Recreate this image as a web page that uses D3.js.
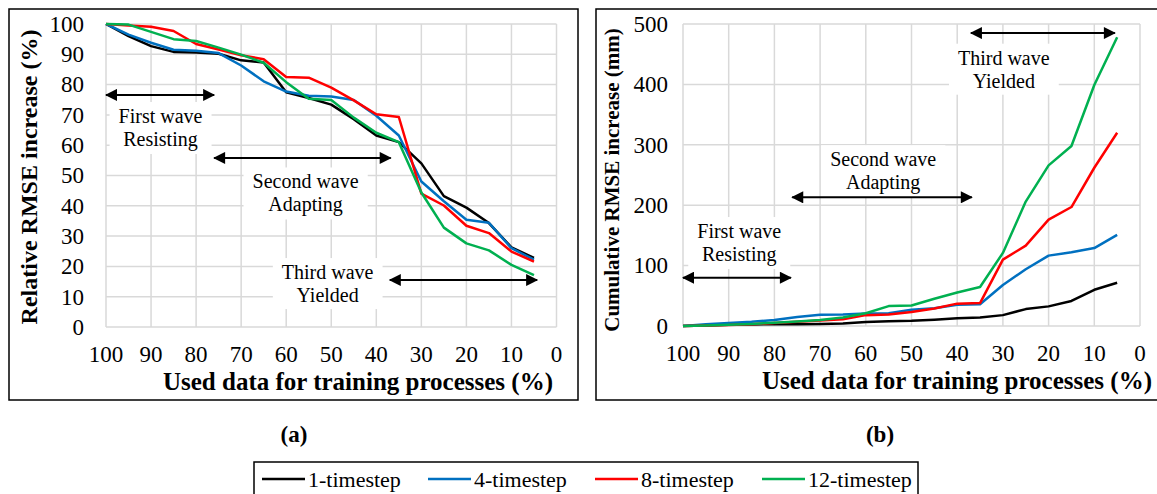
<!DOCTYPE html>
<meta charset="utf-8">
<style>
	body { margin: 0; background: #fff; }
	svg { font-family: "Liberation Serif", "Times New Roman", serif; }
	.grid line { stroke: #d9d9d9; stroke-width: 1.5; }
	.tick-label { font-size: 23px; fill: #000; }
	.axis-title { font-size: 25px; font-weight: bold; fill: #000; }
	.note { font-size: 20px; fill: #000; }
	.legend text { font-size: 22px; }
</style>
<script src="https://cdn.jsdelivr.net/npm/d3@7/dist/d3.min.js"></script>
<svg width="1157" height="494"></svg>
<script>
	// x values: share of data used for training (%)
	var used = [100, 95, 90, 85, 80, 75, 70, 65, 60, 55, 50, 45, 40, 35, 30, 25, 20, 15, 10, 5];
	var xTicks = [100, 90, 80, 70, 60, 50, 40, 30, 20, 10, 0];

	var seriesNames = ["1-timestep", "4-timestep", "8-timestep", "12-timestep"];
	var seriesColors = ["#000000", "#0070c0", "#ff0000", "#00b050"];

	// (a) relative RMSE increase (%)
	var rel1 = [100, 96, 92.7, 90.8, 90.6, 90.2, 88, 87.3, 77.5, 75.6, 73.4, 68.6, 63.2, 61, 54, 43.2, 39.4, 34.3, 26.3, 22.8];
	var rel4 = [100, 96.5, 93.8, 91.5, 91.2, 90.4, 86.3, 81.1, 77.7, 76.3, 76.1, 74.9, 69.7, 63.2, 48, 41.5, 35.4, 34.4, 26, 22.2];
	var rel8 = [100, 99.5, 99.1, 97.7, 93.4, 91.6, 89.7, 88.4, 82.5, 82.3, 79, 74.8, 70.2, 69.3, 44, 40.1, 33.4, 31, 24.9, 21.6];
	var rel12 = [100, 99.8, 97.4, 95, 94.4, 92.2, 89.9, 87.2, 80.8, 75.3, 74.9, 69.1, 64.1, 61, 44.4, 32.8, 27.6, 25.3, 20.5, 17.1];
	var relTicks = [0, 10, 20, 30, 40, 50, 60, 70, 80, 90, 100];

	// (b) cumulative RMSE increase (mm)
	var cum1 = [0, 1, 2, 2.5, 3, 3, 3.5, 4, 6.5, 8, 8.5, 10.5, 13, 14, 18, 28, 32.5, 41.5, 60, 71.5];
	var cum4 = [0, 3, 5, 7, 10, 15, 18.5, 19, 20.5, 21, 27, 29.5, 35, 36, 68, 94, 116.5, 122, 129, 151];
	var cum8 = [0, 1, 1.5, 3, 5, 7, 9, 11, 18, 19, 23, 29, 37, 38, 110, 133, 176, 197, 262, 320];
	var cum12 = [0, 1, 2, 3.5, 5.5, 7.5, 10, 14, 21, 33, 34, 45, 55.5, 64.5, 121, 206, 266, 298, 399, 478];
	var cumTicks = [0, 100, 200, 300, 400, 500];

	// wave annotations: [x from, x to, y] in data units, and label centres
	var arrowsA = [[100, 76, 76.6], [76, 36.8, 55.8], [37, 4.3, 15.5]];
	var notesA = [[87.9, 66, "First wave", "Resisting"], [55.7, 44.4, "Second wave", "Adapting"], [50.8, 14.5, "Third wave", "Yielded"]];
	var arrowsB = [[100, 76.4, 80], [76.1, 36.8, 213], [37, 5.5, 485]];
	var notesB = [[87.7, 139, "First wave", "Resisting"], [56.2, 258, "Second wave", "Adapting"], [29.8, 426, "Third wave", "Yielded"]];

	var svg = d3.select("svg");

	var defs = svg.append("defs");
	defs.append("marker")
		.attr("id", "head")
		.attr("viewBox", "0 0 12 12")
		.attr("refX", 11).attr("refY", 6)
		.attr("markerWidth", 13).attr("markerHeight", 12)
		.attr("markerUnits", "userSpaceOnUse")
		.attr("orient", "auto-start-reverse")
		.append("path")
		.attr("d", "M0,0 L12,6 L0,12 Z")
		.attr("fill", "#000");

	function drawPanel(p) {
		var g = svg.append("g");

		g.append("rect")
			.attr("x", p.box[0]).attr("y", p.box[1])
			.attr("width", p.box[2]).attr("height", p.box[3])
			.attr("fill", "#fff").attr("stroke", "#000").attr("stroke-width", 1.5);

		var x = d3.scaleLinear().domain([100, 0]).range([p.left, p.right]);
		var y = d3.scaleLinear().domain([0, p.ymax]).range([p.bottom, p.top]);

		var grid = g.append("g").attr("class", "grid");
		grid.selectAll(".v").data(xTicks).enter().append("line")
			.attr("x1", function(d) { return x(d); })
			.attr("x2", function(d) { return x(d); })
			.attr("y1", p.top).attr("y2", p.bottom);
		grid.selectAll(".h").data(p.yTicks).enter().append("line")
			.attr("x1", p.left).attr("x2", p.right)
			.attr("y1", function(d) { return y(d); })
			.attr("y2", function(d) { return y(d); });

		g.selectAll(".xl").data(xTicks).enter().append("text")
			.attr("class", "tick-label")
			.attr("x", function(d) { return x(d); })
			.attr("y", p.bottom + 35)
			.attr("text-anchor", "middle")
			.text(function(d) { return d; });

		g.selectAll(".yl").data(p.yTicks).enter().append("text")
			.attr("class", "tick-label")
			.attr("x", p.left - p.yGap)
			.attr("y", function(d) { return y(d); })
			.attr("dy", "0.34em")
			.attr("text-anchor", "end")
			.text(function(d) { return d; });

		g.append("text")
			.attr("class", "axis-title")
			.attr("x", p.xTitleEnd)
			.attr("y", p.bottom + 63)
			.attr("text-anchor", "end")
			.text("Used data for training processes (%)");

		g.append("text")
			.attr("class", "axis-title")
			.attr("transform", "translate(" + p.yTitleX + "," + p.yTitleY + ") rotate(-90)")
			.attr("text-anchor", "middle")
			.style("font-size", p.yTitleSize)
			.text(p.yTitle);

		// annotation text boxes (white fill hides the grid)
		p.notes.forEach(function(n) {
			var tg = g.append("g");
			var t = tg.append("text")
				.attr("class", "note")
				.attr("x", x(n[0]))
				.attr("y", y(n[1]))
				.attr("text-anchor", "middle");
			t.append("tspan").attr("x", x(n[0])).attr("dy", "-0.2em").text(n[2]);
			t.append("tspan").attr("x", x(n[0])).attr("dy", "1.15em").text(n[3]);
			var bb = t.node().getBBox();
			tg.insert("rect", "text")
				.attr("x", bb.x - 9).attr("y", bb.y - 3)
				.attr("width", bb.width + 18).attr("height", bb.height + 6)
				.attr("fill", "#fff");
		});

		g.selectAll(".arrow").data(p.arrows).enter().append("line")
			.attr("x1", function(d) { return x(d[0]); })
			.attr("x2", function(d) { return x(d[1]); })
			.attr("y1", function(d) { return y(d[2]); })
			.attr("y2", function(d) { return y(d[2]); })
			.attr("stroke", "#000").attr("stroke-width", 2)
			.attr("marker-start", "url(#head)")
			.attr("marker-end", "url(#head)");

		var line = d3.line()
			.x(function(d, i) { return x(used[i]); })
			.y(function(d) { return y(d); });

		g.selectAll(".series").data(p.series).enter().append("path")
			.attr("d", line)
			.attr("fill", "none")
			.attr("stroke", function(d, i) { return seriesColors[i]; })
			.attr("stroke-width", 2.5)
			.attr("stroke-linejoin", "round");

		g.append("text")
			.attr("x", p.labelX).attr("y", 442)
			.attr("text-anchor", "middle")
			.style("font-size", "23px").style("font-weight", "bold")
			.text(p.label);
	}

	drawPanel({
		box: [9, 9, 569, 391],
		left: 106, right: 556.5, top: 24, bottom: 327,
		ymax: 100, yTicks: relTicks, yGap: 22,
		xTitleEnd: 553,
		yTitle: "Relative RMSE increase (%)", yTitleX: 37, yTitleY: 177, yTitleSize: "24px",
		series: [rel1, rel4, rel8, rel12],
		arrows: arrowsA, notes: notesA,
		label: "(a)", labelX: 294
	});

	drawPanel({
		box: [596, 9, 580, 391],
		left: 683, right: 1140, top: 24, bottom: 326,
		ymax: 500, yTicks: cumTicks, yGap: 15,
		xTitleEnd: 1152,
		yTitle: "Cumulative RMSE increase (mm)", yTitleX: 619, yTitleY: 180, yTitleSize: "21px",
		series: [cum1, cum4, cum8, cum12],
		arrows: arrowsB, notes: notesB,
		label: "(b)", labelX: 880
	});

	// legend
	var lg = svg.append("g").attr("class", "legend");
	lg.append("rect")
		.attr("x", 254).attr("y", 462).attr("width", 664).attr("height", 45)
		.attr("fill", "#fff").attr("stroke", "#000").attr("stroke-width", 1.5);
	var legendStarts = [262, 428, 595, 762];
	var item = lg.selectAll(".item").data(seriesNames).enter().append("g")
		.attr("transform", function(d, i) { return "translate(" + legendStarts[i] + ",479)"; });
	item.append("line")
		.attr("x1", 0).attr("x2", 43)
		.attr("stroke", function(d, i) { return seriesColors[i]; })
		.attr("stroke-width", 2.5);
	item.append("text")
		.attr("x", 46).attr("dy", "0.36em")
		.text(function(d) { return d; });
</script>
